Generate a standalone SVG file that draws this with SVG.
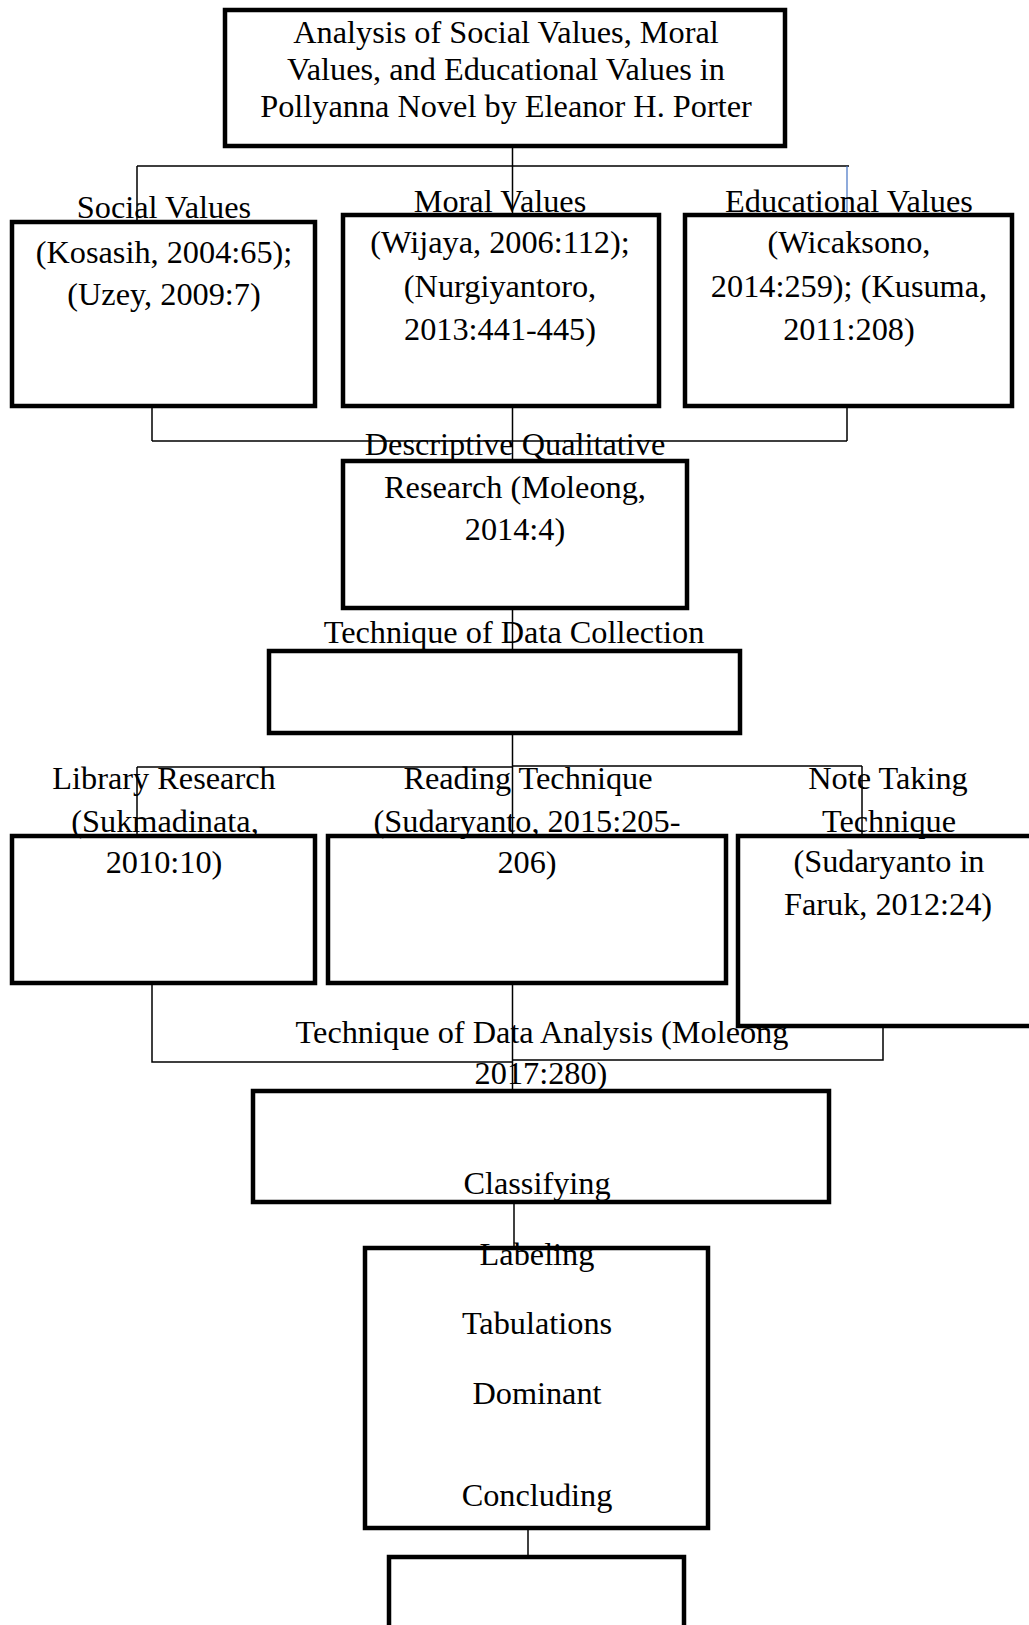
<svg xmlns="http://www.w3.org/2000/svg" width="1029" height="1625" viewBox="0 0 1029 1625">
<style>
.box{fill:none;stroke:#000;stroke-width:4.5}
.t{font-family:"Liberation Serif","Times New Roman",serif;font-size:32.3px;fill:#000;text-anchor:middle}
.c{fill:none;stroke:#000;stroke-width:1.5}
.cb{fill:none;stroke:#4472C4;stroke-width:1.2}
</style>
<rect width="1029" height="1625" fill="#fff"/>
<g id="connectors">
<path class="c" d="M512.5 147V215M137 166H849M137 166V221"/>
<path class="cb" d="M847 166V213"/>
<path class="c" d="M152 407V441M847 407V441M152 441H847M512.5 407V460"/>
<path class="c" d="M512.5 609V650"/>
<path class="c" d="M512.5 733V835M137 767H512.5M512.5 766H862M137 767V835M862 766V835"/>
<path class="c" d="M152 983V1062H512.5M512.5 1060H883V1027M512.5 983V1090"/>
<path class="c" d="M514 1202V1247"/>
<path class="c" d="M528 1528V1556"/>
</g>
<g id="title">
<rect class="box" x="225" y="10" width="560" height="136"/>
<text class="t" x="506" y="43">Analysis of Social Values, Moral</text>
<text class="t" x="506" y="80">Values, and Educational Values in</text>
<text class="t" x="506" y="117">Pollyanna Novel by Eleanor H. Porter</text>
</g>
<g id="social">
<rect class="box" x="12" y="222" width="303" height="184"/>
<text class="t" x="164" y="218">Social Values</text>
<text class="t" x="164" y="263">(Kosasih, 2004:65);</text>
<text class="t" x="164" y="305">(Uzey, 2009:7)</text>
</g>
<g id="moral">
<rect class="box" x="343" y="215" width="316" height="191"/>
<text class="t" x="500" y="212">Moral Values</text>
<text class="t" x="500" y="253">(Wijaya, 2006:112);</text>
<text class="t" x="500" y="297">(Nurgiyantoro,</text>
<text class="t" x="500" y="340">2013:441-445)</text>
</g>
<g id="educational">
<rect class="box" x="685" y="215" width="327" height="191"/>
<text class="t" x="849" y="212">Educational Values</text>
<text class="t" x="849" y="253">(Wicaksono,</text>
<text class="t" x="849" y="297">2014:259); (Kusuma,</text>
<text class="t" x="849" y="340">2011:208)</text>
</g>
<g id="descriptive">
<rect class="box" x="343" y="461" width="344" height="147"/>
<text class="t" x="515" y="455">Descriptive Qualitative</text>
<text class="t" x="515" y="498">Research (Moleong,</text>
<text class="t" x="515" y="540">2014:4)</text>
</g>
<g id="collection">
<rect class="box" x="269" y="651" width="471" height="82"/>
<text class="t" x="514" y="643">Technique of Data Collection</text>
</g>
<g id="library">
<rect class="box" x="12" y="836" width="303" height="147"/>
<text class="t" x="164" y="789">Library Research</text>
<text class="t" x="165" y="832">(Sukmadinata,</text>
<text class="t" x="164" y="873">2010:10)</text>
</g>
<g id="reading">
<rect class="box" x="328" y="836" width="398" height="147"/>
<text class="t" x="528" y="789">Reading Technique</text>
<text class="t" x="527" y="832">(Sudaryanto, 2015:205-</text>
<text class="t" x="527" y="873">206)</text>
</g>
<g id="notetaking">
<rect class="box" x="738" y="836" width="304" height="190"/>
<text class="t" x="888" y="789">Note Taking</text>
<text class="t" x="889" y="832">Technique</text>
<text class="t" x="889" y="872">(Sudaryanto in</text>
<text class="t" x="888" y="915">Faruk, 2012:24)</text>
</g>
<g id="analysis">
<rect class="box" x="253" y="1091" width="576" height="111"/>
<text class="t" x="542" y="1043">Technique of Data Analysis (Moleong</text>
<text class="t" x="541" y="1084">2017:280)</text>
<text class="t" x="537" y="1194">Classifying</text>
</g>
<g id="steps">
<rect class="box" x="365" y="1248" width="343" height="280"/>
<text class="t" x="537" y="1265">Labeling</text>
<text class="t" x="537" y="1334">Tabulations</text>
<text class="t" x="537" y="1404">Dominant</text>
<text class="t" x="537" y="1506">Concluding</text>
</g>
<g id="result">
<rect class="box" x="389" y="1557" width="295" height="100"/>
</g>
</svg>
